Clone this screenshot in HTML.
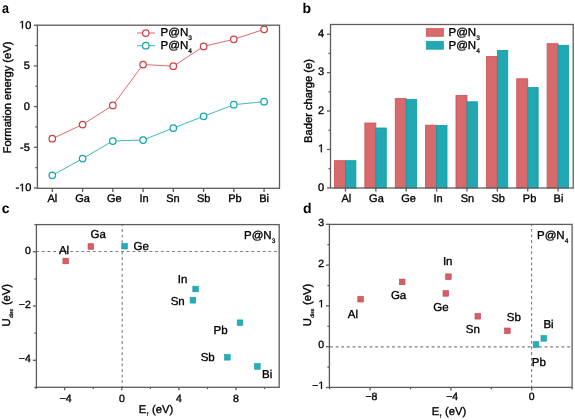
<!DOCTYPE html>
<html><head><meta charset="utf-8"><style>
html,body{margin:0;padding:0;background:#fff;width:575px;height:420px;overflow:hidden}
svg{display:block;will-change:transform}
text{font-family:"Liberation Sans", sans-serif;fill:#000;stroke:#000;stroke-width:0.35px;text-rendering:geometricPrecision}
</style></head><body>
<svg width="575" height="420" viewBox="0 0 575 420">
<text transform="translate(2,13) scale(0.9,1.02)" font-size="14" font-weight="bold" style="stroke-width:0">a</text>
<text x="302.5" y="13" font-size="14" font-weight="bold" style="stroke-width:0">b</text>
<text x="1.8" y="213" font-size="14" font-weight="bold" style="stroke-width:0">c</text>
<text x="302.9" y="213" font-size="14" font-weight="bold" style="stroke-width:0">d</text>
<line x1="33.9" y1="25.19999999999999" x2="37.4" y2="25.19999999999999" stroke="#5c5c5c" stroke-width="1.3"/>
<line x1="33.9" y1="65.89999999999999" x2="37.4" y2="65.89999999999999" stroke="#5c5c5c" stroke-width="1.3"/>
<line x1="33.9" y1="106.6" x2="37.4" y2="106.6" stroke="#5c5c5c" stroke-width="1.3"/>
<line x1="33.9" y1="147.3" x2="37.4" y2="147.3" stroke="#5c5c5c" stroke-width="1.3"/>
<line x1="33.9" y1="188.0" x2="37.4" y2="188.0" stroke="#5c5c5c" stroke-width="1.3"/>
<line x1="35.4" y1="45.54999999999999" x2="37.4" y2="45.54999999999999" stroke="#5c5c5c" stroke-width="1.3"/>
<line x1="35.4" y1="86.25" x2="37.4" y2="86.25" stroke="#5c5c5c" stroke-width="1.3"/>
<line x1="35.4" y1="126.94999999999999" x2="37.4" y2="126.94999999999999" stroke="#5c5c5c" stroke-width="1.3"/>
<line x1="35.4" y1="167.65" x2="37.4" y2="167.65" stroke="#5c5c5c" stroke-width="1.3"/>
<line x1="52.325" y1="188.3" x2="52.325" y2="191.9" stroke="#5c5c5c" stroke-width="1.3"/>
<line x1="82.575" y1="188.3" x2="82.575" y2="191.9" stroke="#5c5c5c" stroke-width="1.3"/>
<line x1="112.825" y1="188.3" x2="112.825" y2="191.9" stroke="#5c5c5c" stroke-width="1.3"/>
<line x1="143.075" y1="188.3" x2="143.075" y2="191.9" stroke="#5c5c5c" stroke-width="1.3"/>
<line x1="173.325" y1="188.3" x2="173.325" y2="191.9" stroke="#5c5c5c" stroke-width="1.3"/>
<line x1="203.575" y1="188.3" x2="203.575" y2="191.9" stroke="#5c5c5c" stroke-width="1.3"/>
<line x1="233.825" y1="188.3" x2="233.825" y2="191.9" stroke="#5c5c5c" stroke-width="1.3"/>
<line x1="264.075" y1="188.3" x2="264.075" y2="191.9" stroke="#5c5c5c" stroke-width="1.3"/>
<text x="31.4" y="28.49999999999999" font-size="11" text-anchor="end" ><tspan style="fill:none;stroke:none">1</tspan>0</text>
<polygon points="21.93,28.50 22.90,28.50 22.90,20.93 22.01,20.93 20.22,22.16 20.22,23.08 21.93,21.86" fill="#000" stroke="#000" stroke-width="0.3" stroke-linejoin="round"/>
<text x="29.9" y="69.19999999999999" font-size="11" text-anchor="end" >5</text>
<text x="29.9" y="109.89999999999999" font-size="11" text-anchor="end" >0</text>
<text x="29.8" y="150.60000000000002" font-size="11" text-anchor="end" >-5</text>
<text x="31.4" y="191.3" font-size="11" text-anchor="end" >-<tspan style="fill:none;stroke:none">1</tspan>0</text>
<polygon points="21.93,191.30 22.90,191.30 22.90,183.73 22.01,183.73 20.22,184.96 20.22,185.88 21.93,184.66" fill="#000" stroke="#000" stroke-width="0.3" stroke-linejoin="round"/>
<text x="52.325" y="202.1" font-size="11" text-anchor="middle" >Al</text>
<text x="82.47500000000001" y="202.1" font-size="11" text-anchor="middle" >Ga</text>
<text x="114.22500000000001" y="202.1" font-size="11" text-anchor="middle" >Ge</text>
<text x="144.075" y="202.1" font-size="11" text-anchor="middle" >In</text>
<text x="173.02499999999998" y="202.1" font-size="11" text-anchor="middle" >Sn</text>
<text x="203.67499999999998" y="202.1" font-size="11" text-anchor="middle" >Sb</text>
<text x="235.02499999999998" y="202.1" font-size="11" text-anchor="middle" >Pb</text>
<text x="264.075" y="202.1" font-size="11" text-anchor="middle" >Bi</text>
<text transform="translate(11.2,97.5) rotate(-90)" font-size="11.2" text-anchor="middle">Formation energy (eV)</text>
<polyline points="52.3,138.7 82.6,124.5 112.8,105.4 143.1,64.5 173.3,66.2 203.6,46.4 233.8,39.3 264.1,29.3" fill="none" stroke="#dc6a6e" stroke-width="1"/>
<polyline points="52.3,175.3 82.6,158.6 112.8,141 143.1,140 173.3,128 203.6,116.3 233.8,104.7 264.1,101.7" fill="none" stroke="#3fb7bf" stroke-width="1"/>
<circle cx="52.3" cy="138.7" r="3.25" fill="#fff" stroke="#d13e46" stroke-width="1.25"/>
<circle cx="52.3" cy="175.3" r="3.25" fill="#fff" stroke="#14a6b0" stroke-width="1.25"/>
<circle cx="82.6" cy="124.5" r="3.25" fill="#fff" stroke="#d13e46" stroke-width="1.25"/>
<circle cx="82.6" cy="158.6" r="3.25" fill="#fff" stroke="#14a6b0" stroke-width="1.25"/>
<circle cx="112.8" cy="105.4" r="3.25" fill="#fff" stroke="#d13e46" stroke-width="1.25"/>
<circle cx="112.8" cy="141" r="3.25" fill="#fff" stroke="#14a6b0" stroke-width="1.25"/>
<circle cx="143.1" cy="64.5" r="3.25" fill="#fff" stroke="#d13e46" stroke-width="1.25"/>
<circle cx="143.1" cy="140" r="3.25" fill="#fff" stroke="#14a6b0" stroke-width="1.25"/>
<circle cx="173.3" cy="66.2" r="3.25" fill="#fff" stroke="#d13e46" stroke-width="1.25"/>
<circle cx="173.3" cy="128" r="3.25" fill="#fff" stroke="#14a6b0" stroke-width="1.25"/>
<circle cx="203.6" cy="46.4" r="3.25" fill="#fff" stroke="#d13e46" stroke-width="1.25"/>
<circle cx="203.6" cy="116.3" r="3.25" fill="#fff" stroke="#14a6b0" stroke-width="1.25"/>
<circle cx="233.8" cy="39.3" r="3.25" fill="#fff" stroke="#d13e46" stroke-width="1.25"/>
<circle cx="233.8" cy="104.7" r="3.25" fill="#fff" stroke="#14a6b0" stroke-width="1.25"/>
<circle cx="264.1" cy="29.3" r="3.25" fill="#fff" stroke="#d13e46" stroke-width="1.25"/>
<circle cx="264.1" cy="101.7" r="3.25" fill="#fff" stroke="#14a6b0" stroke-width="1.25"/>
<line x1="137" y1="33" x2="155" y2="33" stroke="#dc6a6e" stroke-width="1"/>
<circle cx="145.8" cy="33" r="3.25" fill="#fff" stroke="#d13e46" stroke-width="1.25"/>
<line x1="137" y1="45.7" x2="155" y2="45.7" stroke="#3fb7bf" stroke-width="1"/>
<circle cx="145.8" cy="45.7" r="3.25" fill="#fff" stroke="#14a6b0" stroke-width="1.25"/>
<text x="160.6" y="36.2" font-size="11.5">P@N<tspan font-size="6.6" dx="0.1" dy="4.1" style="stroke-width:0.25">3</tspan></text>
<text x="160.6" y="49.2" font-size="11.5">P@N<tspan font-size="6.6" dx="0.1" dy="4.1" style="stroke-width:0.25">4</tspan></text>
<rect x="37.4" y="25.2" width="242.1" height="163.10000000000002" fill="none" stroke="#5c5c5c" stroke-width="1.3"/>
<rect x="334.49" y="160.70" width="11.00" height="27.30" fill="#d76a6c" stroke="#d44c52" stroke-width="0.8"/>
<rect x="345.49" y="160.70" width="10.40" height="27.30" fill="#22a8b2" stroke="#089ca6" stroke-width="0.8"/>
<rect x="364.86" y="123.00" width="11.00" height="65.00" fill="#d76a6c" stroke="#d44c52" stroke-width="0.8"/>
<rect x="375.86" y="128.00" width="10.40" height="60.00" fill="#22a8b2" stroke="#089ca6" stroke-width="0.8"/>
<rect x="395.24" y="98.60" width="11.00" height="89.40" fill="#d76a6c" stroke="#d44c52" stroke-width="0.8"/>
<rect x="406.24" y="99.60" width="10.40" height="88.40" fill="#22a8b2" stroke="#089ca6" stroke-width="0.8"/>
<rect x="425.61" y="125.20" width="11.00" height="62.80" fill="#d76a6c" stroke="#d44c52" stroke-width="0.8"/>
<rect x="436.61" y="125.40" width="10.40" height="62.60" fill="#22a8b2" stroke="#089ca6" stroke-width="0.8"/>
<rect x="455.99" y="95.50" width="11.00" height="92.50" fill="#d76a6c" stroke="#d44c52" stroke-width="0.8"/>
<rect x="466.99" y="101.80" width="10.40" height="86.20" fill="#22a8b2" stroke="#089ca6" stroke-width="0.8"/>
<rect x="486.36" y="56.60" width="11.00" height="131.40" fill="#d76a6c" stroke="#d44c52" stroke-width="0.8"/>
<rect x="497.36" y="50.50" width="10.40" height="137.50" fill="#22a8b2" stroke="#089ca6" stroke-width="0.8"/>
<rect x="516.74" y="78.80" width="11.00" height="109.20" fill="#d76a6c" stroke="#d44c52" stroke-width="0.8"/>
<rect x="527.74" y="87.60" width="10.40" height="100.40" fill="#22a8b2" stroke="#089ca6" stroke-width="0.8"/>
<rect x="547.11" y="43.70" width="11.00" height="144.30" fill="#d76a6c" stroke="#d44c52" stroke-width="0.8"/>
<rect x="558.11" y="45.30" width="10.40" height="142.70" fill="#22a8b2" stroke="#089ca6" stroke-width="0.8"/>
<line x1="327.0" y1="187.9" x2="330.5" y2="187.9" stroke="#5c5c5c" stroke-width="1.3"/>
<line x1="327.0" y1="149.48000000000002" x2="330.5" y2="149.48000000000002" stroke="#5c5c5c" stroke-width="1.3"/>
<line x1="327.0" y1="111.06" x2="330.5" y2="111.06" stroke="#5c5c5c" stroke-width="1.3"/>
<line x1="327.0" y1="72.64" x2="330.5" y2="72.64" stroke="#5c5c5c" stroke-width="1.3"/>
<line x1="327.0" y1="34.22" x2="330.5" y2="34.22" stroke="#5c5c5c" stroke-width="1.3"/>
<line x1="328.5" y1="168.69" x2="330.5" y2="168.69" stroke="#5c5c5c" stroke-width="1.3"/>
<line x1="328.5" y1="130.27" x2="330.5" y2="130.27" stroke="#5c5c5c" stroke-width="1.3"/>
<line x1="328.5" y1="91.85" x2="330.5" y2="91.85" stroke="#5c5c5c" stroke-width="1.3"/>
<line x1="328.5" y1="53.43000000000001" x2="330.5" y2="53.43000000000001" stroke="#5c5c5c" stroke-width="1.3"/>
<line x1="345.4875" y1="188.0" x2="345.4875" y2="191.6" stroke="#5c5c5c" stroke-width="1.3"/>
<line x1="375.8625" y1="188.0" x2="375.8625" y2="191.6" stroke="#5c5c5c" stroke-width="1.3"/>
<line x1="406.2375" y1="188.0" x2="406.2375" y2="191.6" stroke="#5c5c5c" stroke-width="1.3"/>
<line x1="436.6125" y1="188.0" x2="436.6125" y2="191.6" stroke="#5c5c5c" stroke-width="1.3"/>
<line x1="466.9875" y1="188.0" x2="466.9875" y2="191.6" stroke="#5c5c5c" stroke-width="1.3"/>
<line x1="497.3625" y1="188.0" x2="497.3625" y2="191.6" stroke="#5c5c5c" stroke-width="1.3"/>
<line x1="527.7375" y1="188.0" x2="527.7375" y2="191.6" stroke="#5c5c5c" stroke-width="1.3"/>
<line x1="558.1125" y1="188.0" x2="558.1125" y2="191.6" stroke="#5c5c5c" stroke-width="1.3"/>
<text x="324.2" y="190.6" font-size="11" text-anchor="end" >0</text>
<text x="324.2" y="152.18" font-size="11" text-anchor="end" ><tspan style="fill:none;stroke:none">1</tspan></text>
<polygon points="320.85,152.18 321.82,152.18 321.82,144.61 320.93,144.61 319.14,145.84 319.14,146.76 320.85,145.54" fill="#000" stroke="#000" stroke-width="0.3" stroke-linejoin="round"/>
<text x="324.2" y="113.76" font-size="11" text-anchor="end" >2</text>
<text x="324.2" y="75.34" font-size="11" text-anchor="end" >3</text>
<text x="324.2" y="36.92" font-size="11" text-anchor="end" >4</text>
<text x="346.2875" y="202.1" font-size="11" text-anchor="middle" >Al</text>
<text x="376.46250000000003" y="202.1" font-size="11" text-anchor="middle" >Ga</text>
<text x="408.6375" y="202.1" font-size="11" text-anchor="middle" >Ge</text>
<text x="438.0125" y="202.1" font-size="11" text-anchor="middle" >In</text>
<text x="467.3875" y="202.1" font-size="11" text-anchor="middle" >Sn</text>
<text x="498.1625" y="202.1" font-size="11" text-anchor="middle" >Sb</text>
<text x="529.5374999999999" y="202.1" font-size="11" text-anchor="middle" >Pb</text>
<text x="558.5124999999999" y="202.1" font-size="11" text-anchor="middle" >Bi</text>
<text transform="translate(312,101) rotate(-90)" font-size="11.2" text-anchor="middle">Bader charge (e)</text>
<rect x="426.3" y="28.6" width="17.2" height="7.7" fill="#d76a6c" stroke="#d44c52" stroke-width="0.7"/>
<rect x="426.3" y="41.5" width="17.2" height="7.7" fill="#22a8b2" stroke="#089ca6" stroke-width="0.7"/>
<text x="448.5" y="36" font-size="11.5">P@N<tspan font-size="6.6" dx="0.1" dy="4.1" style="stroke-width:0.25">3</tspan></text>
<text x="448.5" y="48.8" font-size="11.5">P@N<tspan font-size="6.6" dx="0.1" dy="4.1" style="stroke-width:0.25">4</tspan></text>
<rect x="330.5" y="24.5" width="242.70000000000005" height="163.5" fill="none" stroke="#5c5c5c" stroke-width="1.3"/>
<line x1="36.4" y1="251.5" x2="279.2" y2="251.5" stroke="#7c7c7c" stroke-width="1.1" stroke-dasharray="2.8 2.865" stroke-dashoffset="0.23"/>
<line x1="122.2" y1="224.6" x2="122.2" y2="387.3" stroke="#7c7c7c" stroke-width="1.1" stroke-dasharray="2.8 2.8" stroke-dashoffset="1.1"/>
<line x1="32.9" y1="251.8" x2="36.4" y2="251.8" stroke="#5c5c5c" stroke-width="1.3"/>
<line x1="32.9" y1="306.04" x2="36.4" y2="306.04" stroke="#5c5c5c" stroke-width="1.3"/>
<line x1="32.9" y1="360.28000000000003" x2="36.4" y2="360.28000000000003" stroke="#5c5c5c" stroke-width="1.3"/>
<line x1="34.4" y1="224.68" x2="36.4" y2="224.68" stroke="#5c5c5c" stroke-width="1.3"/>
<line x1="34.4" y1="278.92" x2="36.4" y2="278.92" stroke="#5c5c5c" stroke-width="1.3"/>
<line x1="34.4" y1="333.16" x2="36.4" y2="333.16" stroke="#5c5c5c" stroke-width="1.3"/>
<line x1="34.4" y1="387.4" x2="36.4" y2="387.4" stroke="#5c5c5c" stroke-width="1.3"/>
<line x1="64.69999999999999" y1="387.3" x2="64.69999999999999" y2="390.3" stroke="#5c5c5c" stroke-width="1.3"/>
<line x1="121.8" y1="387.3" x2="121.8" y2="390.3" stroke="#5c5c5c" stroke-width="1.3"/>
<line x1="178.9" y1="387.3" x2="178.9" y2="390.3" stroke="#5c5c5c" stroke-width="1.3"/>
<line x1="236.0" y1="387.3" x2="236.0" y2="390.3" stroke="#5c5c5c" stroke-width="1.3"/>
<line x1="36.14999999999999" y1="387.3" x2="36.14999999999999" y2="389.1" stroke="#5c5c5c" stroke-width="1.3"/>
<line x1="93.25" y1="387.3" x2="93.25" y2="389.1" stroke="#5c5c5c" stroke-width="1.3"/>
<line x1="150.35" y1="387.3" x2="150.35" y2="389.1" stroke="#5c5c5c" stroke-width="1.3"/>
<line x1="207.45" y1="387.3" x2="207.45" y2="389.1" stroke="#5c5c5c" stroke-width="1.3"/>
<line x1="264.55" y1="387.3" x2="264.55" y2="389.1" stroke="#5c5c5c" stroke-width="1.3"/>
<text x="30.8" y="253.60000000000002" font-size="10.5" text-anchor="end" >0</text>
<text x="30.8" y="307.84000000000003" font-size="10.5" text-anchor="end" >−2</text>
<text x="30.8" y="362.08000000000004" font-size="10.5" text-anchor="end" >−4</text>
<text x="65.69999999999999" y="401.8" font-size="10.5" text-anchor="middle" >−4</text>
<text x="121.8" y="401.8" font-size="10.5" text-anchor="middle" >0</text>
<text x="178.9" y="401.8" font-size="10.5" text-anchor="middle" >4</text>
<text x="236.0" y="401.8" font-size="10.5" text-anchor="middle" >8</text>
<text transform="translate(10.0,305.2) rotate(-90)" font-size="11.2" text-anchor="middle">U<tspan font-size="5" dx="0.4" dy="2.6" style="stroke-width:0.25">diss</tspan><tspan dx="0.8" dy="-2.6"> (eV)</tspan></text>
<text x="156" y="413.4" font-size="11.2" text-anchor="middle">E<tspan font-size="5.5" dx="0.6" dy="3" style="stroke-width:0.15">f</tspan><tspan dx="0.6" dy="-3"> (eV)</tspan></text>
<rect x="62.9" y="258.2" width="5.6" height="5.6" fill="#d65e65" stroke="#c9434b" stroke-width="0.6"/>
<rect x="88.0" y="243.7" width="5.6" height="5.6" fill="#d65e65" stroke="#c9434b" stroke-width="0.6"/>
<rect x="121.8" y="243.4" width="5.6" height="5.6" fill="#26adb5" stroke="#0f9ca6" stroke-width="0.6"/>
<rect x="192.8" y="286.2" width="5.6" height="5.6" fill="#26adb5" stroke="#0f9ca6" stroke-width="0.6"/>
<rect x="190.1" y="297.5" width="5.6" height="5.6" fill="#26adb5" stroke="#0f9ca6" stroke-width="0.6"/>
<rect x="237.2" y="319.9" width="5.6" height="5.6" fill="#26adb5" stroke="#0f9ca6" stroke-width="0.6"/>
<rect x="224.6" y="354.5" width="5.6" height="5.6" fill="#26adb5" stroke="#0f9ca6" stroke-width="0.6"/>
<rect x="254.6" y="363.6" width="5.6" height="5.6" fill="#26adb5" stroke="#0f9ca6" stroke-width="0.6"/>
<text x="58.9" y="253.7" font-size="11.5" text-anchor="start" >Al</text>
<text x="90.5" y="238" font-size="11.5" text-anchor="start" >Ga</text>
<text x="133.5" y="249.9" font-size="11.5" text-anchor="start" >Ge</text>
<text x="177.8" y="283" font-size="11.5" text-anchor="start" >In</text>
<text x="170.70000000000002" y="305" font-size="11.5" text-anchor="start" >Sn</text>
<text x="213.5" y="333.6" font-size="11.5" text-anchor="start" >Pb</text>
<text x="200.70000000000002" y="360.7" font-size="11.5" text-anchor="start" >Sb</text>
<text x="262.0" y="377.6" font-size="11.5" text-anchor="start" >Bi</text>
<text x="244" y="239" font-size="11.5">P@N<tspan font-size="6.6" dx="0.1" dy="4.1" style="stroke-width:0.25">3</tspan></text>
<rect x="36.4" y="224.6" width="242.79999999999998" height="162.70000000000002" fill="none" stroke="#5c5c5c" stroke-width="1.3"/>
<line x1="329.4" y1="346.9" x2="572.1" y2="346.9" stroke="#7c7c7c" stroke-width="1.1" stroke-dasharray="2.8 2.847" stroke-dashoffset="-0.6"/>
<line x1="531.6" y1="224.4" x2="531.6" y2="387.4" stroke="#7c7c7c" stroke-width="1.1" stroke-dasharray="2.8 2.8" stroke-dashoffset="1.1"/>
<line x1="325.9" y1="224.3" x2="329.4" y2="224.3" stroke="#5c5c5c" stroke-width="1.3"/>
<line x1="325.9" y1="265.1" x2="329.4" y2="265.1" stroke="#5c5c5c" stroke-width="1.3"/>
<line x1="325.9" y1="305.9" x2="329.4" y2="305.9" stroke="#5c5c5c" stroke-width="1.3"/>
<line x1="325.9" y1="346.7" x2="329.4" y2="346.7" stroke="#5c5c5c" stroke-width="1.3"/>
<line x1="325.9" y1="387.5" x2="329.4" y2="387.5" stroke="#5c5c5c" stroke-width="1.3"/>
<line x1="327.4" y1="244.7" x2="329.4" y2="244.7" stroke="#5c5c5c" stroke-width="1.3"/>
<line x1="327.4" y1="285.5" x2="329.4" y2="285.5" stroke="#5c5c5c" stroke-width="1.3"/>
<line x1="327.4" y1="326.3" x2="329.4" y2="326.3" stroke="#5c5c5c" stroke-width="1.3"/>
<line x1="327.4" y1="367.09999999999997" x2="329.4" y2="367.09999999999997" stroke="#5c5c5c" stroke-width="1.3"/>
<line x1="370.1" y1="387.4" x2="370.1" y2="390.4" stroke="#5c5c5c" stroke-width="1.3"/>
<line x1="450.90000000000003" y1="387.4" x2="450.90000000000003" y2="390.4" stroke="#5c5c5c" stroke-width="1.3"/>
<line x1="531.7" y1="387.4" x2="531.7" y2="390.4" stroke="#5c5c5c" stroke-width="1.3"/>
<line x1="329.70000000000005" y1="387.4" x2="329.70000000000005" y2="389.2" stroke="#5c5c5c" stroke-width="1.3"/>
<line x1="410.50000000000006" y1="387.4" x2="410.50000000000006" y2="389.2" stroke="#5c5c5c" stroke-width="1.3"/>
<line x1="491.30000000000007" y1="387.4" x2="491.30000000000007" y2="389.2" stroke="#5c5c5c" stroke-width="1.3"/>
<line x1="572.1" y1="387.4" x2="572.1" y2="389.2" stroke="#5c5c5c" stroke-width="1.3"/>
<text x="324.2" y="225.70000000000002" font-size="10.5" text-anchor="end" >3</text>
<text x="324.2" y="266.5" font-size="10.5" text-anchor="end" >2</text>
<text x="324.2" y="307.29999999999995" font-size="10.5" text-anchor="end" ><tspan style="fill:none;stroke:none">1</tspan></text>
<polygon points="321.00,307.30 321.93,307.30 321.93,300.08 321.08,300.08 319.37,301.25 319.37,302.12 321.00,300.96" fill="#000" stroke="#000" stroke-width="0.3" stroke-linejoin="round"/>
<text x="324.2" y="348.09999999999997" font-size="10.5" text-anchor="end" >0</text>
<text x="324.2" y="388.9" font-size="10.5" text-anchor="end" >−<tspan style="fill:none;stroke:none">1</tspan></text>
<polygon points="321.00,388.90 321.93,388.90 321.93,381.68 321.08,381.68 319.37,382.85 319.37,383.72 321.00,382.56" fill="#000" stroke="#000" stroke-width="0.3" stroke-linejoin="round"/>
<text x="371.40000000000003" y="400.0" font-size="10.5" text-anchor="middle" >−8</text>
<text x="452.20000000000005" y="400.0" font-size="10.5" text-anchor="middle" >−4</text>
<text x="531.7" y="400.0" font-size="10.5" text-anchor="middle" >0</text>
<text transform="translate(311.3,305.0) rotate(-90)" font-size="11.2" text-anchor="middle">U<tspan font-size="5" dx="0.4" dy="2.6" style="stroke-width:0.25">diss</tspan><tspan dx="0.8" dy="-2.6"> (eV)</tspan></text>
<text x="449" y="414.7" font-size="11.2" text-anchor="middle">E<tspan font-size="5.5" dx="0.6" dy="3" style="stroke-width:0.15">f</tspan><tspan dx="0.6" dy="-3"> (eV)</tspan></text>
<rect x="357.8" y="296.4" width="5.6" height="5.6" fill="#d65e65" stroke="#c9434b" stroke-width="0.6"/>
<rect x="399.4" y="279.1" width="5.6" height="5.6" fill="#d65e65" stroke="#c9434b" stroke-width="0.6"/>
<rect x="445.6" y="273.9" width="5.6" height="5.6" fill="#d65e65" stroke="#c9434b" stroke-width="0.6"/>
<rect x="443.0" y="290.6" width="5.6" height="5.6" fill="#d65e65" stroke="#c9434b" stroke-width="0.6"/>
<rect x="475.0" y="313.5" width="5.6" height="5.6" fill="#d65e65" stroke="#c9434b" stroke-width="0.6"/>
<rect x="504.6" y="328.0" width="5.6" height="5.6" fill="#d65e65" stroke="#c9434b" stroke-width="0.6"/>
<rect x="533.2" y="341.7" width="5.6" height="5.6" fill="#26adb5" stroke="#0f9ca6" stroke-width="0.6"/>
<rect x="541.0" y="335.6" width="5.6" height="5.6" fill="#26adb5" stroke="#0f9ca6" stroke-width="0.6"/>
<text x="347.8" y="317.6" font-size="11.5" text-anchor="start" >Al</text>
<text x="390.90000000000003" y="299.2" font-size="11.5" text-anchor="start" >Ga</text>
<text x="442.90000000000003" y="264.7" font-size="11.5" text-anchor="start" >In</text>
<text x="433.2" y="311.1" font-size="11.5" text-anchor="start" >Ge</text>
<text x="465.8" y="333" font-size="11.5" text-anchor="start" >Sn</text>
<text x="506.8" y="320.6" font-size="11.5" text-anchor="start" >Sb</text>
<text x="531.8" y="365.6" font-size="11.5" text-anchor="start" >Pb</text>
<text x="543.4" y="328" font-size="11.5" text-anchor="start" >Bi</text>
<text x="537" y="239" font-size="11.5">P@N<tspan font-size="6.6" dx="0.1" dy="4.1" style="stroke-width:0.25">4</tspan></text>
<rect x="329.4" y="224.4" width="242.70000000000005" height="162.99999999999997" fill="none" stroke="#5c5c5c" stroke-width="1.3"/>
</svg>
</body></html>
